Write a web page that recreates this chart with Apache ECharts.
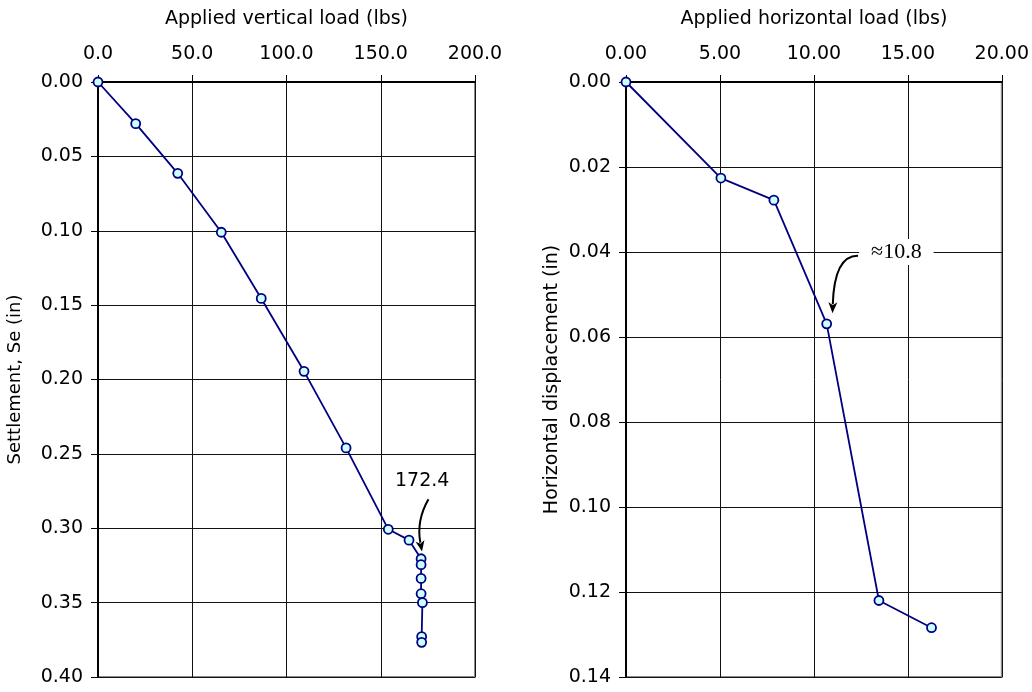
<!DOCTYPE html>
<html>
<head>
<meta charset="utf-8">
<script src="https://cdn.jsdelivr.net/npm/echarts@6/dist/echarts.min.js"></script>
<style>
  html, body { margin: 0; padding: 0; background: #fff; }
  #chart { width: 1032px; height: 692px; }
</style>
</head>
<body>
<div id="chart"></div>
<script>
// vertical load test (left panel)
var vertLoad = [0, 20.0, 42.3, 65.4, 86.6, 109.3, 131.6, 154.0, 165.0, 171.4, 171.4, 171.4, 171.4, 172.1, 171.7, 171.7];
var settlement = [0, 0.028, 0.0614, 0.101, 0.1455, 0.1945, 0.246, 0.3007, 0.308, 0.3205, 0.3245, 0.3337, 0.344, 0.350, 0.3729, 0.3767];

// horizontal load test (right panel)
var horizLoad = [0, 5.05, 7.87, 10.68, 13.46, 16.26];
var horizDisp = [0, 0.0226, 0.0278, 0.0569, 0.1220, 0.1284];

// annotations: label position + curved arrow (from, control, to), in data units
var vertNote = { text: '172.4', at: [172.0, 0.268], from: [175.3, 0.2805], ctrl: [168.8, 0.2949], to: [171.9, 0.3157] };
var horizNote = { text: '\u224810.8', at: [14.39, 0.0400], from: [12.35, 0.0409], ctrl: [11.09, 0.0408], to: [10.99, 0.0544] };

var FONT = 'DejaVu Sans';
var LINE = '#000080';
var FILL = '#ccffff';

function pairs(xs, ys) {
    return xs.map(function (x, i) { return [x, ys[i]]; });
}

function xAxisCfg(idx, name, max, interval, digits) {
    return {
        type: 'value', gridIndex: idx, position: 'top',
        min: 0, max: max, interval: interval,
        name: name, nameLocation: 'middle', nameGap: 53,
        nameTextStyle: { fontFamily: FONT, fontSize: 19, color: '#000' },
        axisLine: { show: true, onZero: false, lineStyle: { color: '#000', width: 2 } },
        axisTick: { show: true, length: 7, lineStyle: { color: '#000', width: 1 } },
        axisLabel: { margin: 18, fontFamily: FONT, fontSize: 19, color: '#000',
            formatter: function (v) { return v.toFixed(digits); } },
        splitLine: { show: true, lineStyle: { color: '#111', width: 1 } }
    };
}

function yAxisCfg(idx, name, max, interval, gap, nameSize) {
    return {
        type: 'value', gridIndex: idx, inverse: true,
        min: 0, max: max, interval: interval,
        name: name, nameLocation: 'middle', nameGap: gap,
        nameTextStyle: { fontFamily: FONT, fontSize: nameSize, color: '#000' },
        axisLine: { show: true, onZero: false, lineStyle: { color: '#000', width: 2 } },
        axisTick: { show: true, length: 7, lineStyle: { color: '#000', width: 1 } },
        axisLabel: { margin: 15, fontFamily: FONT, fontSize: 19, color: '#000',
            formatter: function (v) { return v.toFixed(2); } },
        splitLine: { show: true, lineStyle: { color: '#111', width: 1 } }
    };
}

function seriesCfg(idx, data, note, font, size, pad) {
    return {
        type: 'line', xAxisIndex: idx, yAxisIndex: idx,
        data: data, clip: false, animation: false,
        symbol: 'circle', symbolSize: 9,
        lineStyle: { color: LINE, width: 1.8 },
        itemStyle: { color: FILL, borderColor: LINE, borderWidth: 1.8 },
        markPoint: {
            silent: true, animation: false,
            symbol: 'circle', symbolSize: 1,
            itemStyle: { color: 'rgba(0,0,0,0)' },
            label: {
                show: true, position: 'inside', formatter: note.text,
                fontFamily: font, fontSize: size, color: '#000',
                backgroundColor: pad ? '#fff' : 'transparent',
                padding: pad ? [2, pad] : 0
            },
            data: [{ coord: note.at }]
        }
    };
}

var options = {
    backgroundColor: '#fff',
    animation: false,
    grid: [
        { left: 98, top: 82, width: 377, height: 595, show: true, borderColor: '#8c8c8c', borderWidth: 2, backgroundColor: '#fff' },
        { left: 626, top: 82, width: 376, height: 595, show: true, borderColor: '#8c8c8c', borderWidth: 2, backgroundColor: '#fff' }
    ],
    xAxis: [
        xAxisCfg(0, 'Applied vertical load (lbs)', 200, 50, 1),
        xAxisCfg(1, 'Applied horizontal load (lbs)', 20, 5, 2)
    ],
    yAxis: [
        yAxisCfg(0, 'Settlement, Se (in)', 0.4, 0.05, 74, 18),
        yAxisCfg(1, 'Horizontal displacement (in)', 0.14, 0.02, 64, 19)
    ],
    series: [
        seriesCfg(0, pairs(vertLoad, settlement), vertNote, FONT, 19, 0),
        seriesCfg(1, pairs(horizLoad, horizDisp), horizNote, 'Liberation Serif', 22, 12)
    ]
};

var chart = echarts.init(document.getElementById('chart'));
chart.setOption(options, true);

// curved arrows, placed through the grids' own scales
function arrow(gridIndex, note) {
    var p0 = chart.convertToPixel({ gridIndex: gridIndex }, note.from);
    var c = chart.convertToPixel({ gridIndex: gridIndex }, note.ctrl);
    var p1 = chart.convertToPixel({ gridIndex: gridIndex }, note.to);
    var dx = p1[0] - c[0], dy = p1[1] - c[1];
    var len = Math.sqrt(dx * dx + dy * dy);
    var ux = dx / len, uy = dy / len;
    var headLen = 11, headW = 4.5;
    var bx = p1[0] - ux * headLen, by = p1[1] - uy * headLen;
    return [
        {
            type: 'bezierCurve', silent: true, z: 100,
            shape: { x1: p0[0], y1: p0[1], cpx1: c[0], cpy1: c[1], x2: bx + ux * 2, y2: by + uy * 2 },
            style: { stroke: '#000', lineWidth: 2, fill: null }
        },
        {
            type: 'polygon', silent: true, z: 100,
            shape: { points: [p1, [bx - uy * headW, by + ux * headW], [bx + ux * 3, by + uy * 3], [bx + uy * headW, by - ux * headW]] },
            style: { fill: '#000' }
        }
    ];
}

chart.setOption({ graphic: arrow(0, vertNote).concat(arrow(1, horizNote)) });
</script>
</body>
</html>
